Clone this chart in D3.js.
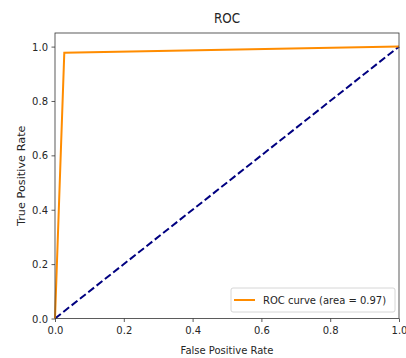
<!DOCTYPE html>
<html>
<head>
<meta charset="utf-8">
<script src="https://cdn.jsdelivr.net/npm/d3@7"></script>
<style>
  body { margin: 0; background: #fff; }
  text { font-family: "DejaVu Sans", sans-serif; fill: #262626; }
</style>
</head>
<body>
<div id="chart"></div>
<script>
// ROC curve points
const fpr = [0, 0.027, 1];
const tpr = [0, 0.977, 1];
const diagX = [0, 1];
const diagY = [0, 1];
const xTicks = [0, 0.2, 0.4, 0.6, 0.8, 1.0];
const yTicks = [0, 0.2, 0.4, 0.6, 0.8, 1.0];
const legendLabel = "ROC curve (area = 0.97)";

const width = 406, height = 358;
const margin = { top: 33, right: 7, bottom: 39.5, left: 55 };
const stretch = 1.13; // text in the picture is a bit taller than wide

const svg = d3.select("#chart").append("svg")
  .attr("width", width)
  .attr("height", height);

const x = d3.scaleLinear().domain([0, 1]).range([margin.left, width - margin.right]);
const y = d3.scaleLinear().domain([0, 1.05]).range([height - margin.bottom, margin.top]);

// axes
const xAxis = svg.append("g")
  .attr("transform", `translate(0,${height - margin.bottom})`)
  .call(d3.axisBottom(x).tickValues(xTicks).tickFormat(d3.format(".1f")).tickSize(3.5).tickPadding(3.5));
const yAxis = svg.append("g")
  .attr("transform", `translate(${margin.left},0)`)
  .call(d3.axisLeft(y).tickValues(yTicks).tickFormat(d3.format(".1f")).tickSize(3.5).tickPadding(3.5));
[xAxis, yAxis].forEach(g => {
  g.select(".domain").remove();
  g.selectAll("line").attr("stroke", "#333").attr("stroke-width", 0.8);
  g.selectAll("text").style("font-size", "10px").attr("fill", "#262626")
    .attr("transform", `scale(1,${stretch})`)
    .attr("y", function() { return (+d3.select(this).attr("y") || 0) / stretch; });
});

// lines
const line = d3.line().x(d => x(d[0])).y(d => y(d[1]));

svg.append("path")
  .datum(diagX.map((v, i) => [v, diagY[i]]))
  .attr("d", line)
  .attr("fill", "none")
  .attr("stroke", "navy")
  .attr("stroke-width", 2)
  .attr("stroke-dasharray", "7.4,3.2");

svg.append("path")
  .datum(fpr.map((v, i) => [v, tpr[i]]))
  .attr("d", line)
  .attr("fill", "none")
  .attr("stroke", "darkorange")
  .attr("stroke-width", 2);

// frame
svg.append("rect")
  .attr("x", margin.left)
  .attr("y", margin.top)
  .attr("width", width - margin.left - margin.right)
  .attr("height", height - margin.top - margin.bottom)
  .attr("fill", "none")
  .attr("stroke", "#333")
  .attr("stroke-width", 0.8);

// title and labels
svg.append("text")
  .attr("transform", `translate(${(margin.left + width - margin.right) / 2},23) scale(1,${stretch})`)
  .attr("text-anchor", "middle")
  .style("font-size", "12px")
  .text("ROC");

svg.append("text")
  .attr("transform", `translate(${(margin.left + width - margin.right) / 2},354) scale(1,${stretch})`)
  .attr("text-anchor", "middle")
  .style("font-size", "10px")
  .text("False Positive Rate");

svg.append("text")
  .attr("transform", `translate(24.5,${(margin.top + height - margin.bottom) / 2}) rotate(-90) scale(${stretch},1)`)
  .attr("text-anchor", "middle")
  .style("font-size", "10px")
  .text("True Positive Rate");

// legend
const lg = svg.append("g").attr("transform", "translate(231,288)");
lg.append("rect")
  .attr("width", 164).attr("height", 24).attr("rx", 2)
  .attr("fill", "#fff").attr("fill-opacity", 0.8)
  .attr("stroke", "#ccc").attr("stroke-width", 0.8);
lg.append("line")
  .attr("x1", 3).attr("x2", 24).attr("y1", 12).attr("y2", 12)
  .attr("stroke", "darkorange").attr("stroke-width", 2);
lg.append("text")
  .attr("transform", `translate(32,16) scale(1,${stretch})`)
  .style("font-size", "10px")
  .text(legendLabel);
</script>
</body>
</html>
